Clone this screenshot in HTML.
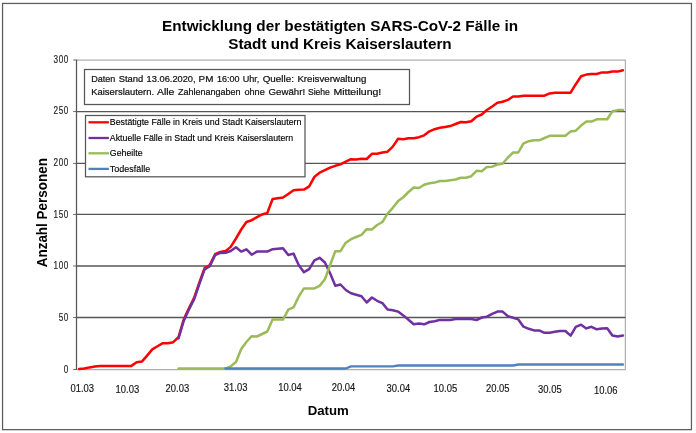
<!DOCTYPE html>
<html lang="de">
<head>
<meta charset="utf-8">
<title>Entwicklung der bestätigten SARS-CoV-2 Fälle in Stadt und Kreis Kaiserslautern</title>
<style>
html,body{margin:0;padding:0;background:#fff;}
body{width:696px;height:433px;overflow:hidden;font-family:"Liberation Sans",sans-serif;}
svg{display:block;will-change:transform;}
</style>
</head>
<body>
<svg width="696" height="433" viewBox="0 0 696 433">
<rect x="0" y="0" width="696" height="433" fill="#fff"/>
<rect x="694.7" y="0" width="1.3" height="433" fill="#f9f9f9"/>
<rect x="2.55" y="3.45" width="688.9" height="426.2" fill="#fff" stroke="#5c5c5c" stroke-width="1.25"/>
<polyline points="76.5,60 625.4,60 625.4,369.5 76.5,369.5" fill="none" stroke="#b0b0b0" stroke-width="1.25"/>
<line x1="76.5" x2="625.5" y1="111.55" y2="111.55" stroke="#565656" stroke-width="1.3"/>
<line x1="76.5" x2="625.5" y1="163.4" y2="163.4" stroke="#565656" stroke-width="1.3"/>
<line x1="76.5" x2="625.5" y1="214.4" y2="214.4" stroke="#565656" stroke-width="1.3"/>
<line x1="76.5" x2="625.5" y1="266" y2="266" stroke="#565656" stroke-width="1.3"/>
<line x1="76.5" x2="625.5" y1="317.5" y2="317.5" stroke="#565656" stroke-width="1.3"/>
<line x1="76.5" x2="76.5" y1="59.5" y2="369.95" stroke="#565656" stroke-width="1.25"/>
<line x1="73.2" x2="76" y1="60" y2="60" stroke="#6a6a6a" stroke-width="1"/>
<line x1="73.2" x2="76" y1="111.55" y2="111.55" stroke="#6a6a6a" stroke-width="1"/>
<line x1="73.2" x2="76" y1="163.4" y2="163.4" stroke="#6a6a6a" stroke-width="1"/>
<line x1="73.2" x2="76" y1="214.4" y2="214.4" stroke="#6a6a6a" stroke-width="1"/>
<line x1="73.2" x2="76" y1="266" y2="266" stroke="#6a6a6a" stroke-width="1"/>
<line x1="73.2" x2="76" y1="317.5" y2="317.5" stroke="#6a6a6a" stroke-width="1"/>
<line x1="73.2" x2="76" y1="369.45" y2="369.45" stroke="#6a6a6a" stroke-width="1"/>
<g font-family="Liberation Sans, sans-serif" font-size="10.2" fill="#262626" stroke="#262626" stroke-width="0.18" text-anchor="end" letter-spacing="0.75">
<text transform="translate(68.9,62.9) scale(0.8,1)">300</text>
<text transform="translate(68.9,114.2) scale(0.8,1)">250</text>
<text transform="translate(68.9,166.1) scale(0.8,1)">200</text>
<text transform="translate(68.9,217.8) scale(0.8,1)">150</text>
<text transform="translate(68.9,269.2) scale(0.8,1)">100</text>
<text transform="translate(68.9,321.3) scale(0.8,1)">50</text>
<text transform="translate(68.9,373.0) scale(0.8,1)">0</text>
</g>
<g fill="none" stroke-width="2.5" stroke-linejoin="round" stroke-linecap="round">
<polyline stroke="#ff0000" points="79.1,369.0 84.3,368.5 89.6,367.4 94.8,366.6 100.0,366.0 105.3,365.9 110.5,365.9 115.7,365.9 120.9,365.9 126.2,365.9 131.4,365.9 136.6,362.3 141.9,361.6 147.1,355.6 152.3,349.4 157.5,346.3 162.8,343.2 168.0,343.2 173.2,342.2 178.5,337.1 183.7,319.6 188.9,308.2 194.1,297.9 199.4,282.5 204.6,268.1 209.8,265.0 215.1,254.2 220.3,252.0 225.5,251.1 230.7,246.9 236.0,238.5 241.2,229.5 246.4,222.0 251.7,220.2 256.9,217.2 262.1,214.5 267.3,213.0 272.6,199.0 277.8,198.3 283.0,197.6 288.3,193.9 293.5,190.2 298.7,189.8 303.9,189.6 309.2,186.4 314.4,176.9 319.6,172.7 324.9,170.2 330.1,167.7 335.3,165.8 340.5,164.4 345.8,161.7 351.0,159.2 356.2,159.5 361.5,158.7 366.7,159.0 371.9,153.8 377.1,153.8 382.4,152.5 387.6,151.7 392.8,146.6 398.1,138.8 403.3,139.2 408.5,138.3 413.7,138.3 419.0,137.2 424.2,135.3 429.4,131.3 434.7,129.2 439.9,127.8 445.1,126.9 450.3,126.1 455.6,124.0 460.8,122.0 466.0,122.3 471.3,121.3 476.5,116.7 481.7,114.5 486.9,110.0 492.2,106.5 497.4,102.8 502.6,101.7 507.9,99.9 513.1,96.5 518.3,96.5 523.5,95.7 528.8,95.7 534.0,95.7 539.2,95.7 544.5,95.7 549.7,93.4 554.9,92.7 560.1,92.7 565.4,92.7 570.6,92.7 575.8,84.2 581.1,76.2 586.3,74.6 591.5,74.0 596.7,74.0 602.0,72.4 607.2,72.4 612.4,71.6 617.7,71.6 622.9,70.3"/>
<polyline stroke="#7030a0" points="178.5,338.4 183.7,320.9 188.9,309.6 194.1,299.3 199.4,283.8 204.6,269.4 209.8,266.3 215.1,255.1 220.3,252.9 225.5,252.8 230.7,251.0 236.0,247.3 241.2,251.6 246.4,249.3 251.7,254.7 256.9,251.6 262.1,251.6 267.3,251.6 272.6,249.2 277.8,248.7 283.0,248.3 288.3,255.0 293.5,253.6 298.7,265.0 303.9,272.2 309.2,269.1 314.4,260.3 319.6,257.8 324.9,262.5 330.1,273.2 335.3,285.8 340.5,284.5 345.8,290.0 351.0,293.3 356.2,294.8 361.5,296.3 366.7,302.5 371.9,297.5 377.1,300.8 382.4,303.1 387.6,309.5 392.8,310.2 398.1,311.6 403.3,315.4 408.5,319.7 413.7,324.3 419.0,323.5 424.2,324.3 429.4,322.0 434.7,321.2 439.9,319.9 445.1,319.9 450.3,319.9 455.6,319.0 460.8,319.0 466.0,319.0 471.3,319.0 476.5,320.0 481.7,317.5 486.9,316.7 492.2,313.8 497.4,311.6 502.6,311.6 507.9,316.2 513.1,317.7 518.3,319.4 523.5,326.7 528.8,328.8 534.0,330.4 539.2,330.4 544.5,332.8 549.7,332.8 554.9,331.8 560.1,331.0 565.4,331.0 570.6,335.6 575.8,326.8 581.1,324.7 586.3,328.4 591.5,326.8 596.7,329.3 602.0,328.4 607.2,328.3 612.4,335.5 617.7,336.5 622.9,335.5"/>
<polyline stroke="#9bbb59" points="178.5,368.6 183.7,368.6 188.9,368.6 194.1,368.6 199.4,368.6 204.6,368.6 209.8,368.6 215.1,368.6 220.3,368.6 225.5,368.6 230.7,366.4 236.0,362.0 241.2,349.0 246.4,342.0 251.7,336.2 256.9,336.5 262.1,334.0 267.3,331.5 272.6,319.6 277.8,319.6 283.0,319.6 288.3,309.6 293.5,307.4 298.7,296.7 303.9,288.4 309.2,288.4 314.4,288.4 319.6,285.9 324.9,279.2 330.1,265.0 335.3,251.2 340.5,251.2 345.8,242.7 351.0,239.2 356.2,237.0 361.5,234.8 366.7,229.2 371.9,229.5 377.1,225.0 382.4,222.0 387.6,213.7 392.8,207.8 398.1,201.1 403.3,197.3 408.5,192.0 413.7,187.5 419.0,188.0 424.2,184.8 429.4,183.3 434.7,182.6 439.9,181.0 445.1,181.0 450.3,180.3 455.6,179.5 460.8,177.8 466.0,177.8 471.3,176.2 476.5,170.8 481.7,171.2 486.9,167.0 492.2,166.7 497.4,164.5 502.6,163.7 507.9,157.5 513.1,152.5 518.3,152.5 523.5,143.3 528.8,141.2 534.0,140.3 539.2,140.3 544.5,138.0 549.7,135.8 554.9,135.8 560.1,135.8 565.4,135.8 570.6,131.4 575.8,130.7 581.1,125.6 586.3,121.6 591.5,121.6 596.7,119.3 602.0,119.3 607.2,119.3 612.4,111.3 617.7,110.1 622.9,110.1"/>
<polyline stroke="#4f81bd" stroke-width="2.35" points="225.5,368.5 230.7,368.5 236.0,368.5 241.2,368.5 246.4,368.5 251.7,368.5 256.9,368.5 262.1,368.5 267.3,368.5 272.6,368.5 277.8,368.5 283.0,368.5 288.3,368.5 293.5,368.5 298.7,368.5 303.9,368.5 309.2,368.5 314.4,368.5 319.6,368.5 324.9,368.5 330.1,368.5 335.3,368.5 340.5,368.5 345.8,368.5 351.0,366.4 356.2,366.4 361.5,366.4 366.7,366.4 371.9,366.4 377.1,366.4 382.4,366.4 387.6,366.4 392.8,366.4 398.1,365.5 403.3,365.5 408.5,365.5 413.7,365.5 419.0,365.5 424.2,365.5 429.4,365.5 434.7,365.5 439.9,365.5 445.1,365.5 450.3,365.5 455.6,365.5 460.8,365.5 466.0,365.5 471.3,365.5 476.5,365.5 481.7,365.5 486.9,365.5 492.2,365.5 497.4,365.5 502.6,365.5 507.9,365.5 513.1,365.5 518.3,364.5 523.5,364.5 528.8,364.5 534.0,364.5 539.2,364.5 544.5,364.5 549.7,364.5 554.9,364.5 560.1,364.5 565.4,364.5 570.6,364.5 575.8,364.5 581.1,364.5 586.3,364.5 591.5,364.5 596.7,364.5 602.0,364.5 607.2,364.5 612.4,364.5 617.7,364.5 622.9,364.5"/>
</g>
<rect x="84.5" y="69.5" width="325" height="35" fill="#fff" stroke="#565656" stroke-width="1.25"/>
<g font-family="Liberation Sans, sans-serif" font-size="9.4" fill="#111" stroke="#111" stroke-width="0.22">
<text x="91.2" y="82.4" textLength="24.1" lengthAdjust="spacingAndGlyphs">Daten</text>
<text x="118.7" y="82.4" textLength="24.6" lengthAdjust="spacingAndGlyphs">Stand</text>
<text x="146.6" y="82.4" textLength="49.0" lengthAdjust="spacingAndGlyphs">13.06.2020,</text>
<text x="198.6" y="82.4" textLength="14.8" lengthAdjust="spacingAndGlyphs">PM</text>
<text x="216.9" y="82.4" textLength="22.5" lengthAdjust="spacingAndGlyphs">16:00</text>
<text x="242.7" y="82.4" textLength="16.7" lengthAdjust="spacingAndGlyphs">Uhr,</text>
<text x="262.7" y="82.4" textLength="31.2" lengthAdjust="spacingAndGlyphs">Quelle:</text>
<text x="297.4" y="82.4" textLength="68.9" lengthAdjust="spacingAndGlyphs">Kreisverwaltung</text>
<text x="91.2" y="95.3" textLength="62.9" lengthAdjust="spacingAndGlyphs">Kaiserslautern.</text>
<text x="157.1" y="95.3" textLength="17.3" lengthAdjust="spacingAndGlyphs">Alle</text>
<text x="177.9" y="95.3" textLength="62.7" lengthAdjust="spacingAndGlyphs">Zahlenangaben</text>
<text x="244.4" y="95.3" textLength="20.4" lengthAdjust="spacingAndGlyphs">ohne</text>
<text x="268.6" y="95.3" textLength="36.5" lengthAdjust="spacingAndGlyphs">Gewähr!</text>
<text x="307.9" y="95.3" textLength="22.0" lengthAdjust="spacingAndGlyphs">Siehe</text>
<text x="333.4" y="95.3" textLength="47.9" lengthAdjust="spacingAndGlyphs">Mitteilung!</text>
</g>
<rect x="85.5" y="115.5" width="219.5" height="61.3" fill="#fff" stroke="#565656" stroke-width="1.25"/>
<g font-family="Liberation Sans, sans-serif" font-size="9.3" fill="#000" stroke="#000" stroke-width="0.15">
<line x1="88.5" x2="108.9" y1="122.3" y2="122.3" stroke="#ff0000" stroke-width="2.3"/>
<text x="109.8" y="125.4" textLength="191.6" lengthAdjust="spacingAndGlyphs">Bestätigte Fälle in Kreis und Stadt Kaiserslautern</text>
<line x1="88.5" x2="108.9" y1="138.0" y2="138.0" stroke="#7030a0" stroke-width="2.3"/>
<text x="109.8" y="140.9" textLength="183.4" lengthAdjust="spacingAndGlyphs">Aktuelle Fälle in Stadt und Kreis Kaiserslautern</text>
<line x1="88.5" x2="108.9" y1="153.3" y2="153.3" stroke="#9bbb59" stroke-width="2.3"/>
<text x="109.8" y="156.4" textLength="32.8" lengthAdjust="spacingAndGlyphs">Geheilte</text>
<line x1="88.5" x2="108.9" y1="168.9" y2="168.9" stroke="#4f81bd" stroke-width="2.3"/>
<text x="109.8" y="171.6" textLength="40.4" lengthAdjust="spacingAndGlyphs">Todesfälle</text>
</g>
<g font-family="Liberation Sans, sans-serif" font-size="10" fill="#151515" stroke="#151515" stroke-width="0.15">
<text x="70.4" y="392.4" textLength="23.6" lengthAdjust="spacingAndGlyphs">01.03</text>
<text x="115.6" y="392.9" textLength="23.6" lengthAdjust="spacingAndGlyphs">10.03</text>
<text x="165.6" y="392.0" textLength="23.6" lengthAdjust="spacingAndGlyphs">20.03</text>
<text x="223.8" y="391.0" textLength="23.6" lengthAdjust="spacingAndGlyphs">31.03</text>
<text x="278.2" y="390.6" textLength="23.6" lengthAdjust="spacingAndGlyphs">10.04</text>
<text x="331.7" y="391.2" textLength="23.6" lengthAdjust="spacingAndGlyphs">20.04</text>
<text x="386.6" y="391.7" textLength="23.6" lengthAdjust="spacingAndGlyphs">30.04</text>
<text x="433.6" y="392.1" textLength="23.6" lengthAdjust="spacingAndGlyphs">10.05</text>
<text x="485.9" y="392.1" textLength="23.6" lengthAdjust="spacingAndGlyphs">20.05</text>
<text x="538.1" y="392.9" textLength="23.6" lengthAdjust="spacingAndGlyphs">30.05</text>
<text x="594.0" y="394.1" textLength="23.6" lengthAdjust="spacingAndGlyphs">10.06</text>
</g>
<g font-family="Liberation Sans, sans-serif" font-weight="bold" fill="#000">
<text x="340.0" y="30.8" font-size="14" text-anchor="middle" textLength="356" lengthAdjust="spacingAndGlyphs">Entwicklung der bestätigten SARS-CoV-2 Fälle in</text>
<text x="340.0" y="48.8" font-size="14" text-anchor="middle" textLength="223.4" lengthAdjust="spacingAndGlyphs">Stadt und Kreis Kaiserslautern</text>
<text x="328.2" y="415.3" font-size="13.5" text-anchor="middle" textLength="41.1" lengthAdjust="spacingAndGlyphs">Datum</text>
<text transform="translate(47.0,212.7) rotate(-90)" font-size="13.8" text-anchor="middle" textLength="109.2" lengthAdjust="spacingAndGlyphs">Anzahl Personen</text>
</g>
</svg>
</body>
</html>
